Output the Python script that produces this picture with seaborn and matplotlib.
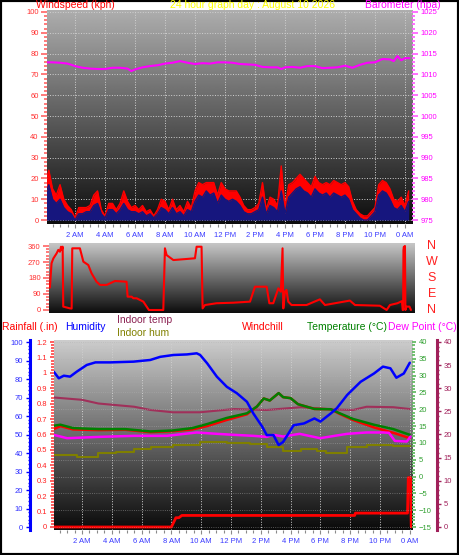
import numpy as np
import matplotlib
matplotlib.use("Agg")
import matplotlib.pyplot as plt
from matplotlib.ticker import MultipleLocator
from matplotlib.patches import Rectangle
import matplotlib.transforms as mtransforms
import seaborn as sns

# -------------------------------
# Data (hours since midnight)
hour_ticks = [2, 4, 6, 8, 10, 12, 14, 16, 18, 20, 22, 24]
hour_labels = ["2 AM", "4 AM", "6 AM", "8 AM", "10 AM", "12 PM",
               "2 PM", "4 PM", "6 PM", "8 PM", "10 PM", "0 AM"]

# wind, one sample every 15 minutes
wind_hours = np.arange(0, 24.5, 0.25)
wind_gust = [17, 24, 15, 12, 17, 10, 7, 5, 1, 6, 6, 6, 7, 12, 14, 5,
             2, 8, 8, 5, 8, 14, 9, 6, 7, 5, 7, 4, 5, 2, 5, 10,
             9, 5, 10, 5, 7, 4, 9, 6, 14, 18, 17, 18, 18, 18, 12, 18,
             15, 14, 14, 14, 11, 7, 5, 5, 6, 8, 18, 5, 11, 10, 7, 26,
             6, 17, 18, 20, 22, 20, 18, 16, 21, 18, 17, 18, 17, 19, 18, 17,
             18, 16, 9, 5, 3, 2, 2, 4, 6, 17, 19, 18, 15, 10, 9, 11,
             7, 14]
wind_speed = [12, 17, 10, 8, 10, 6, 4, 3, 0, 3, 3, 4, 4, 7, 8, 3,
              1, 5, 5, 3, 5, 8, 5, 4, 4, 3, 4, 2, 3, 1, 3, 6,
              5, 3, 6, 3, 4, 2, 5, 4, 9, 12, 11, 14, 12, 13, 8, 12,
              10, 9, 10, 9, 7, 4, 3, 3, 4, 5, 11, 3, 7, 6, 4, 14,
              3, 11, 13, 15, 16, 14, 13, 11, 15, 13, 12, 13, 11, 13, 12, 11,
              12, 10, 5, 3, 1, 0, 0, 2, 4, 12, 14, 13, 10, 6, 5, 7,
              4, 9]

baro_hours = [0.1, 0.5, 1, 1.5, 2, 2.5, 3, 3.5, 4, 4.5, 5, 5.5, 5.75, 6, 6.5, 7,
              7.5, 8, 8.5, 9, 9.5, 10, 10.5, 11, 11.5, 12, 12.5, 13, 13.5, 14,
              14.5, 15, 15.5, 15.75, 16, 16.5, 17, 17.5, 18, 18.5, 19, 19.5, 20,
              20.5, 21, 21.5, 22, 22.5, 23, 23.25, 23.5, 23.75, 24, 24.3]
baro = [1012.9, 1012.9, 1012.8, 1012.6, 1012.0, 1011.6, 1011.4, 1011.3, 1011.3,
        1011.6, 1011.6, 1011.4, 1010.8, 1011.2, 1011.7, 1012.0, 1012.2, 1012.6,
        1012.8, 1013.2, 1012.8, 1012.5, 1012.7, 1012.6, 1012.9, 1012.9, 1012.8,
        1012.5, 1012.4, 1012.3, 1011.8, 1011.7, 1011.7, 1011.3, 1011.7, 1011.8,
        1011.6, 1012.0, 1012.0, 1011.5, 1011.6, 1011.7, 1012.1, 1011.6, 1012.3,
        1012.8, 1012.9, 1013.7, 1013.6, 1013.2, 1014.4, 1013.4, 1013.9, 1013.9]

dir_hours = [0.33, 0.44, 0.56, 0.78, 0.89, 1.0, 1.07, 1.13, 1.18, 1.22, 1.67, 1.78,
             1.82, 2.33, 2.56, 2.89, 3.11, 3.44, 3.67, 4.11, 4.67, 5.44, 5.51, 5.78,
             5.89, 6.11, 6.56, 6.93, 7.89, 8.0, 8.11, 8.56, 9.44, 10.0, 10.11, 10.44,
             10.51, 10.67, 11.44, 12.56, 13.67, 14.0, 14.78, 14.96, 15.22, 15.56,
             15.73, 15.84, 15.89, 16.0, 16.1, 16.22, 16.44, 17.44, 18.33, 18.67,
             20.33, 20.67, 22.33, 22.78, 23.0, 23.5, 23.8, 23.85, 23.88, 23.9, 23.93,
             23.97, 24.0, 24.03, 24.1, 24.3, 24.4]
wind_dir = [126, 263, 290, 319, 338, 328, 356, 338, 356, 19, 9, 8,
            347, 347, 272, 253, 206, 159, 141, 141, 163, 159, 75, 75,
            66, 66, 47, 0, 0, 347, 309, 281, 287, 291, 356, 356,
            9, 28, 38, 41, 47, 131, 131, 38, 38, 122,
            103, 347, 9, 103, 113, 47, 28, 28, 60, 28,
            53, 28, 24, 0, 28, 38, 50, 0, 0, 337, 356,
            328, 360, 0, 19, 19, 0]

hum_hours = [0.1, 0.44, 0.78, 1.2, 1.65, 2.32, 2.9, 3.9, 5.46, 6.58, 7.25, 8.14,
             9.04, 9.7, 9.93, 10.4, 11.05, 11.72, 12.4, 13.07, 13.5, 14.1, 14.4,
             14.85, 15.2, 15.5, 15.86, 16.2, 16.9, 17.6, 18.0, 18.7, 19.1, 19.8,
             20.7, 21.6, 22.2, 22.7, 23.1, 23.6, 24.0]
humidity = [84, 80.4, 81.8, 81.3, 84, 87.6, 89, 89, 89.4, 90.3, 92, 93,
            93.3, 93.9, 93, 88.5, 81.3, 75.8, 72.3, 67.7, 61.4, 54.2, 49.7,
            49.7, 44.3, 46, 50.6, 55, 56, 58.7, 57, 61.4, 64.2, 71.4,
            78.5, 83, 86.7, 85.8, 80.7, 83, 88.8]

temp_hours = [0.1, 0.55, 1.4, 3.1, 4.9, 6.6, 8.1, 9.4, 10.4, 11.7, 13.07, 13.74,
              14.2, 14.6, 15.2, 15.5, 16.0, 16.5, 17.6, 18.7, 19.3, 20.2, 21.6,
              22.9, 24.0]
temperature = [15.1, 15.4, 14.4, 14.1, 14.1, 13.4, 13.7, 14.4, 15.6, 17.4, 18.8, 20.8,
               23.2, 22.6, 24.8, 23.6, 23.3, 21.5, 20.1, 20.0, 18.8, 17.1, 15.4,
               14.1, 12.4]
windchill = [14.1, 15.0, 14.0, 13.8, 13.9, 13.2, 13.5, 14.0, 15.0, 16.8, 18.5, 20.8,
             23.2, 22.6, 24.8, 23.6, 23.3, 21.5, 20.1, 20.0, 18.6, 16.8, 14.6,
             13.0, 11.4]

dew_hours = [0.1, 1.0, 2.1, 3.2, 5.5, 7.7, 9.7, 11.05, 12.2, 13.5, 14.4, 14.85,
             15.5, 16.6, 17.98, 19.8, 21.1, 22.2, 22.6, 23.0, 23.8, 24.05]
dew_point = [12.4, 11.4, 11.6, 11.8, 12.1, 12.1, 13.1, 12.7, 12.4, 12.1, 11.8, 12.4,
             11.9, 12.7, 11.4, 12.7, 13.1, 13.1, 13.0, 10.6, 10.4, 11.9]

indoor_hours = [0.1, 2.0, 3.1, 5.5, 6.6, 8.1, 9.9, 12.2, 14.4, 16.7, 18.9, 20.2,
                21.1, 22.9, 24.0]
indoor_temp = [28.0, 27.5, 26.7, 26.0, 25.3, 24.8, 24.8, 25.5, 25.3, 25.9, 25.4, 25.3,
               26.0, 25.9, 25.5]

inhum_hours = [0.1, 1.65, 3.1, 4.3, 5.5, 6.6, 8.1, 9.9, 11.7, 13.3, 14.4, 15.5,
               16.7, 17.8, 18.4, 19.8, 21.1, 22.9, 24.0]
indoor_hum = [38.9, 38.0, 39.8, 40.7, 42.2, 43.1, 44.3, 46.1, 45.6, 44.9, 43.4, 41.3,
              42.0, 41.3, 40.2, 43.1, 44.3, 43.8, 43.8]

rain_hours = [0.1, 8.0, 8.3, 8.5, 8.7, 20.3, 20.35, 23.85, 23.9, 24.05, 24.1]
rainfall = [0, 0, 0.06, 0.06, 0.075, 0.075, 0.09, 0.09, 0.32, 0.32, 0]

# -------------------------------
W, H = 459, 555
sns.set_style("white")
plt.rcParams['font.family'] = ['Liberation Sans', 'DejaVu Sans']
HEAD = ['Liberation Sans', 'DejaVu Sans']
TICK_FS = 5.5


def px_axes(x0, y0, x1, y1):
    return [x0 / W, 1 - y1 / H, (x1 - x0) / W, (y1 - y0) / H]


def gradient(ax, top, bottom):
    g = np.linspace(top, bottom, 256).reshape(-1, 1)
    ax.imshow(g, cmap='gray', vmin=0, vmax=1, aspect='auto', extent=[0, 1, 0, 1],
              transform=ax.transAxes, zorder=0, interpolation='bilinear')


def hide_spines(ax):
    for s in ax.spines.values():
        s.set_visible(False)


def xaxis_hours(ax, labels=True):
    ax.set_xticks(hour_ticks)
    ax.set_xticklabels(hour_labels if labels else [])
    ax.xaxis.set_minor_locator(MultipleLocator(0.5))
    ax.tick_params(axis='x', which='both', colors='#8a8a8a', labelcolor='#3a3aff',
                   labelsize=TICK_FS, length=3, width=0.8, pad=3, bottom=True)
    ax.tick_params(axis='x', which='minor', length=2)


def head(x, y, s, color, ha='left', fs=7.5):
    fig.text(x / W, 1 - y / H, s, color=color, fontsize=fs, family=HEAD,
             ha=ha, va='center')


fig = plt.figure(figsize=(W / 100, H / 100), dpi=100)
fig.patch.set_facecolor('white')

# -------------------------------
# Panel 1: windspeed + barometer
ax1 = fig.add_axes(px_axes(47, 10, 412, 224))
gradient(ax1, 0.68, 0.05)
ax1.fill_between(wind_hours, 0, wind_speed, color='#16167e', lw=0, zorder=2)
ax1.fill_between(wind_hours, wind_speed, wind_gust, color='#ff0000', lw=0, zorder=2)
sns.lineplot(x=wind_hours, y=wind_gust, ax=ax1, color='#ff0000', lw=1,
             estimator=None, zorder=3)
sns.lineplot(x=wind_hours, y=wind_speed, ax=ax1, color='#16167e', lw=1,
             estimator=None, zorder=3)
ax1.set_xlim(0.13, 24.47)
ax1.set_ylim(-1.9, 100.96)
ax1.set_yticks(range(0, 101, 10))
ax1.yaxis.set_minor_locator(MultipleLocator(2))
ax1.grid(True, which='major', ls=':', color='#d0d0d0', lw=0.7)
ax1.tick_params(axis='y', which='both', colors='#ff7070', labelcolor='#ff3030',
                labelsize=TICK_FS, length=4, width=1.3, pad=2, left=True)
ax1.tick_params(axis='y', which='minor', length=2.5)
xaxis_hours(ax1)
hide_spines(ax1)

ax1b = ax1.twinx()
sns.lineplot(x=baro_hours, y=baro, ax=ax1b, color='#ff00ff', lw=1.5, estimator=None)
ax1b.set_ylim(974.04, 1025.48)
ax1b.set_yticks(range(975, 1026, 5))
ax1b.yaxis.set_minor_locator(MultipleLocator(1))
ax1b.tick_params(axis='y', which='both', colors='#ff66ff', labelcolor='#ff00ff',
                 labelsize=TICK_FS, length=4, width=1.3, pad=2, right=True)
ax1b.tick_params(axis='y', which='minor', length=2.5)
ax1b.set_ylabel('')
hide_spines(ax1b)

# -------------------------------
# Panel 2: wind direction
ax2 = fig.add_axes(px_axes(49, 243, 415, 313))
gradient(ax2, 0.78, 0.05)
sns.lineplot(x=dir_hours, y=wind_dir, ax=ax2, color='#ff0000', lw=1.5, estimator=None, sort=False)
ax2.set_xlim(0.27, 24.67)
ax2.set_ylim(-17, 377)
ax2.set_yticks([0, 90, 180, 270, 360])
ax2.yaxis.set_minor_locator(MultipleLocator(18))
ax2.tick_params(axis='y', which='both', colors='#ff7070', labelcolor='#ff3030',
                labelsize=TICK_FS, length=4, width=1.3, pad=2, left=True)
ax2.tick_params(axis='y', which='minor', length=2.5)
ax2.set_xticks([])
hide_spines(ax2)
tr = mtransforms.blended_transform_factory(ax2.transAxes, ax2.transData)
for deg, lab in zip([360, 270, 180, 90, 0], ["N", "W", "S", "E", "N"]):
    ax2.text(1.046, deg, lab, transform=tr, color='#ff2020', fontsize=9,
             ha='center', va='center', family=HEAD)

# -------------------------------
# Panel 3: rain / humidity / temperatures
ax3 = fig.add_axes(px_axes(54, 340, 412, 530))
gradient(ax3, 0.80, 0.04)
ax_in = ax3.twinx()
ax_t = ax3.twinx()
ax_h = ax3.twinx()

sns.lineplot(x=rain_hours, y=rainfall, ax=ax3, color='#ff0000', lw=2, estimator=None, zorder=3)
ax3.set_xlim(0.12, 24.15)
ax3.set_ylim(-0.0195, 1.213)
ax3.set_yticks(np.round(np.arange(0, 1.21, 0.1), 1))
ax3.set_yticklabels(["0", "0.1", "0.2", "0.3", "0.4", "0.5", "0.6", "0.7", "0.8",
                     "0.9", "1", "1.1", "1.2"])
ax3.yaxis.set_minor_locator(MultipleLocator(0.02))
ax3.tick_params(axis='y', which='both', colors='#ff5050', labelcolor='#ff2020',
                labelsize=TICK_FS, length=3, width=1.3, pad=2, left=True)
ax3.tick_params(axis='y', which='minor', length=2)
ax3.grid(True, axis='x', ls=':', color='#d0d0d0', lw=0.7)
xaxis_hours(ax3)
hide_spines(ax3)

sns.lineplot(x=indoor_hours, y=indoor_temp, ax=ax_in, color='#a0305a', lw=1.5, estimator=None)
ax_in.set_ylim(-0.65, 40.43)
ax_in.set_yticks(range(0, 41, 5))
ax_in.yaxis.set_minor_locator(MultipleLocator(1))
hide_spines(ax_in)
ax_in.spines['right'].set_visible(True)
ax_in.spines['right'].set_position(('outward', 25 * 0.72))
ax_in.spines['right'].set_color('#a0205a')
ax_in.spines['right'].set_linewidth(2.2)
ax_in.tick_params(axis='y', which='both', colors='#a0205a', labelcolor='#a0205a',
                  labelsize=TICK_FS, length=3, width=1, pad=2, right=True)
ax_in.tick_params(axis='y', which='minor', length=1.5)
ax_in.set_ylabel('')

sns.lineplot(x=temp_hours, y=windchill, ax=ax_t, color='#ff0000', lw=1.8, estimator=None)
sns.lineplot(x=temp_hours, y=temperature, ax=ax_t, color='#008000', lw=1.8, estimator=None)
sns.lineplot(x=dew_hours, y=dew_point, ax=ax_t, color='#ff00ff', lw=1.8, estimator=None)
ax_t.set_ylim(-15.89, 40.59)
ax_t.set_yticks(range(-15, 41, 5))
ax_t.yaxis.set_minor_locator(MultipleLocator(1))
ax_t.grid(True, axis='y', ls=':', color='#b0b0b0', lw=0.6, alpha=0.6)
hide_spines(ax_t)
ax_t.tick_params(axis='y', which='both', colors='#66bb66', labelcolor='#30a030',
                 labelsize=TICK_FS, length=3, width=1.3, pad=2, right=True)
ax_t.tick_params(axis='y', which='minor', length=2)
ax_t.set_ylabel('')

sns.lineplot(x=inhum_hours, y=indoor_hum, ax=ax_h, color='#7f7f00', lw=1.5,
             drawstyle='steps-post', estimator=None)
sns.lineplot(x=hum_hours, y=humidity, ax=ax_h, color='#0000ff', lw=1.8, estimator=None)
ax_h.set_ylim(-1.6, 101.1)
ax_h.set_yticks(range(0, 101, 10))
ax_h.yaxis.set_minor_locator(MultipleLocator(2))
ax_h.yaxis.tick_left()
hide_spines(ax_h)
ax_h.spines['left'].set_visible(True)
ax_h.spines['left'].set_position(('outward', 24 * 0.72))
ax_h.spines['left'].set_color('#0000ff')
ax_h.spines['left'].set_linewidth(2.2)
ax_h.tick_params(axis='y', which='both', colors='#0000ff', labelcolor='#3030ff',
                 labelsize=TICK_FS, length=3, width=1, pad=2, left=True, right=False)
ax_h.tick_params(axis='y', which='minor', length=1.5)
ax_h.set_ylabel('')
ax_h.set_xlim(0.12, 24.15)

# -------------------------------
# Titles / legends as text
head(36, 5, "Windspeed (kph)", '#ff0000')
head(170, 5, "24 hour graph day : August 10 2026", '#ffff00')
head(441, 5, "Barometer (hpa)", '#ff00ff', ha='right')
head(2, 327, "Rainfall (.in)", '#ff0000')
head(65, 327, "Humidity", '#0000ff')
head(117, 320, "Indoor temp", '#8b2252')
head(117, 333, "Indoor hum", '#808000')
head(242, 327, "Windchill", '#ff0000')
head(307, 327, "Temperature (°C)", '#008000')
head(457, 327, "Dew Point (°C)", '#ff00ff', ha='right')

fig.add_artist(Rectangle((0, 0), 1, 1, transform=fig.transFigure, fill=False,
                         ec='black', lw=3))

plt.savefig("out.png", dpi=100)
